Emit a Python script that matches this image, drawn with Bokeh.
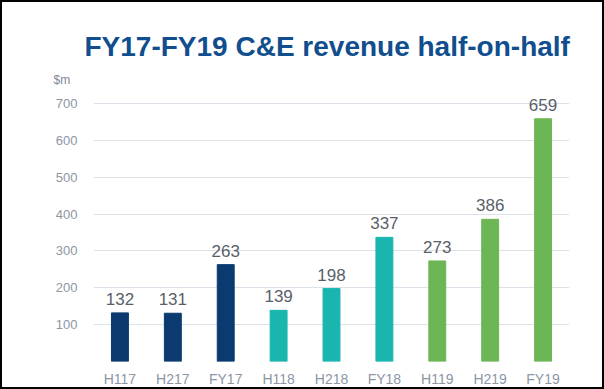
from bokeh.plotting import figure
from bokeh.models import ColumnDataSource, FixedTicker, LabelSet, Title, Range1d
from bokeh.core.properties import value
from bokeh.embed import file_html
from bokeh.resources import INLINE

categories = ["H117", "H217", "FY17", "H118", "H218", "FY18", "H119", "H219", "FY19"]
revenue = [132, 131, 263, 139, 198, 337, 273, 386, 659]
bar_colors = ["#0A3A6F", "#0A3A6F", "#0A3A6F",
              "#1BB5AF", "#1BB5AF", "#1BB5AF",
              "#6DB655", "#6DB655", "#6DB655"]
y_ticks = [0, 100, 200, 300, 400, 500, 600, 700]
title_text = "FY17-FY19 C&E revenue half-on-half"
unit_text = "$m"

src = ColumnDataSource(dict(cat=categories, val=revenue, color=bar_colors,
                            lbl=[str(v) for v in revenue]))

p = figure(x_range=categories, y_range=Range1d(0, 727.6), width=600, height=385,
           output_backend="svg", toolbar_location=None, title=None,
           min_border_left=91, min_border_right=37, min_border_bottom=30,
           min_border_top=91)
p.styles = {"border": "2px solid black", "box-sizing": "content-box"}

p.vbar(x="cat", top="val", width=0.32, color="color", source=src)

labels = LabelSet(x="cat", y="val", text="lbl", source=src, text_align="center",
                  text_baseline="alphabetic", y_offset=8,
                  text_font=value("Liberation Sans"),
                  text_font_size=value("17px"), text_color="#595F69")
p.add_layout(labels)

p.add_layout(Title(text=unit_text, align="left", offset=-40, text_font="Liberation Sans",
                   text_font_size="12px", text_font_style="normal", text_color="#7F8896",
                   standoff=13), "above")
p.add_layout(Title(text=title_text, align="left", offset=-9, text_font="Liberation Sans",
                   text_font_size="28px", text_font_style="bold", text_color="#114E8E",
                   standoff=6), "above")

p.yaxis.ticker = FixedTicker(ticks=y_ticks)
p.yaxis.major_label_overrides = {0: ""}
p.yaxis.axis_line_color = None
p.yaxis.major_tick_line_color = None
p.yaxis.minor_tick_line_color = None
p.yaxis.major_tick_out = 0
p.yaxis.major_tick_in = 0
p.yaxis.major_label_standoff = 16
p.yaxis.major_label_text_font = "Liberation Sans"
p.yaxis.major_label_text_font_size = "13px"
p.yaxis.major_label_text_color = "#8C96A5"

p.xaxis.axis_line_color = None
p.xaxis.major_tick_line_color = None
p.xaxis.major_tick_out = 0
p.xaxis.major_tick_in = 0
p.xaxis.major_label_standoff = 9
p.xaxis.major_label_text_font = "Liberation Sans"
p.xaxis.major_label_text_font_size = "14px"
p.xaxis.major_label_text_color = "#8C96A5"

p.xgrid.grid_line_color = None
p.ygrid.grid_line_color = "#DDE1E8"
p.ygrid.grid_line_width = 1

p.outline_line_color = None
p.border_fill_color = "white"
p.background_fill_color = "white"

open("out.html", "w").write(file_html(p, INLINE))
